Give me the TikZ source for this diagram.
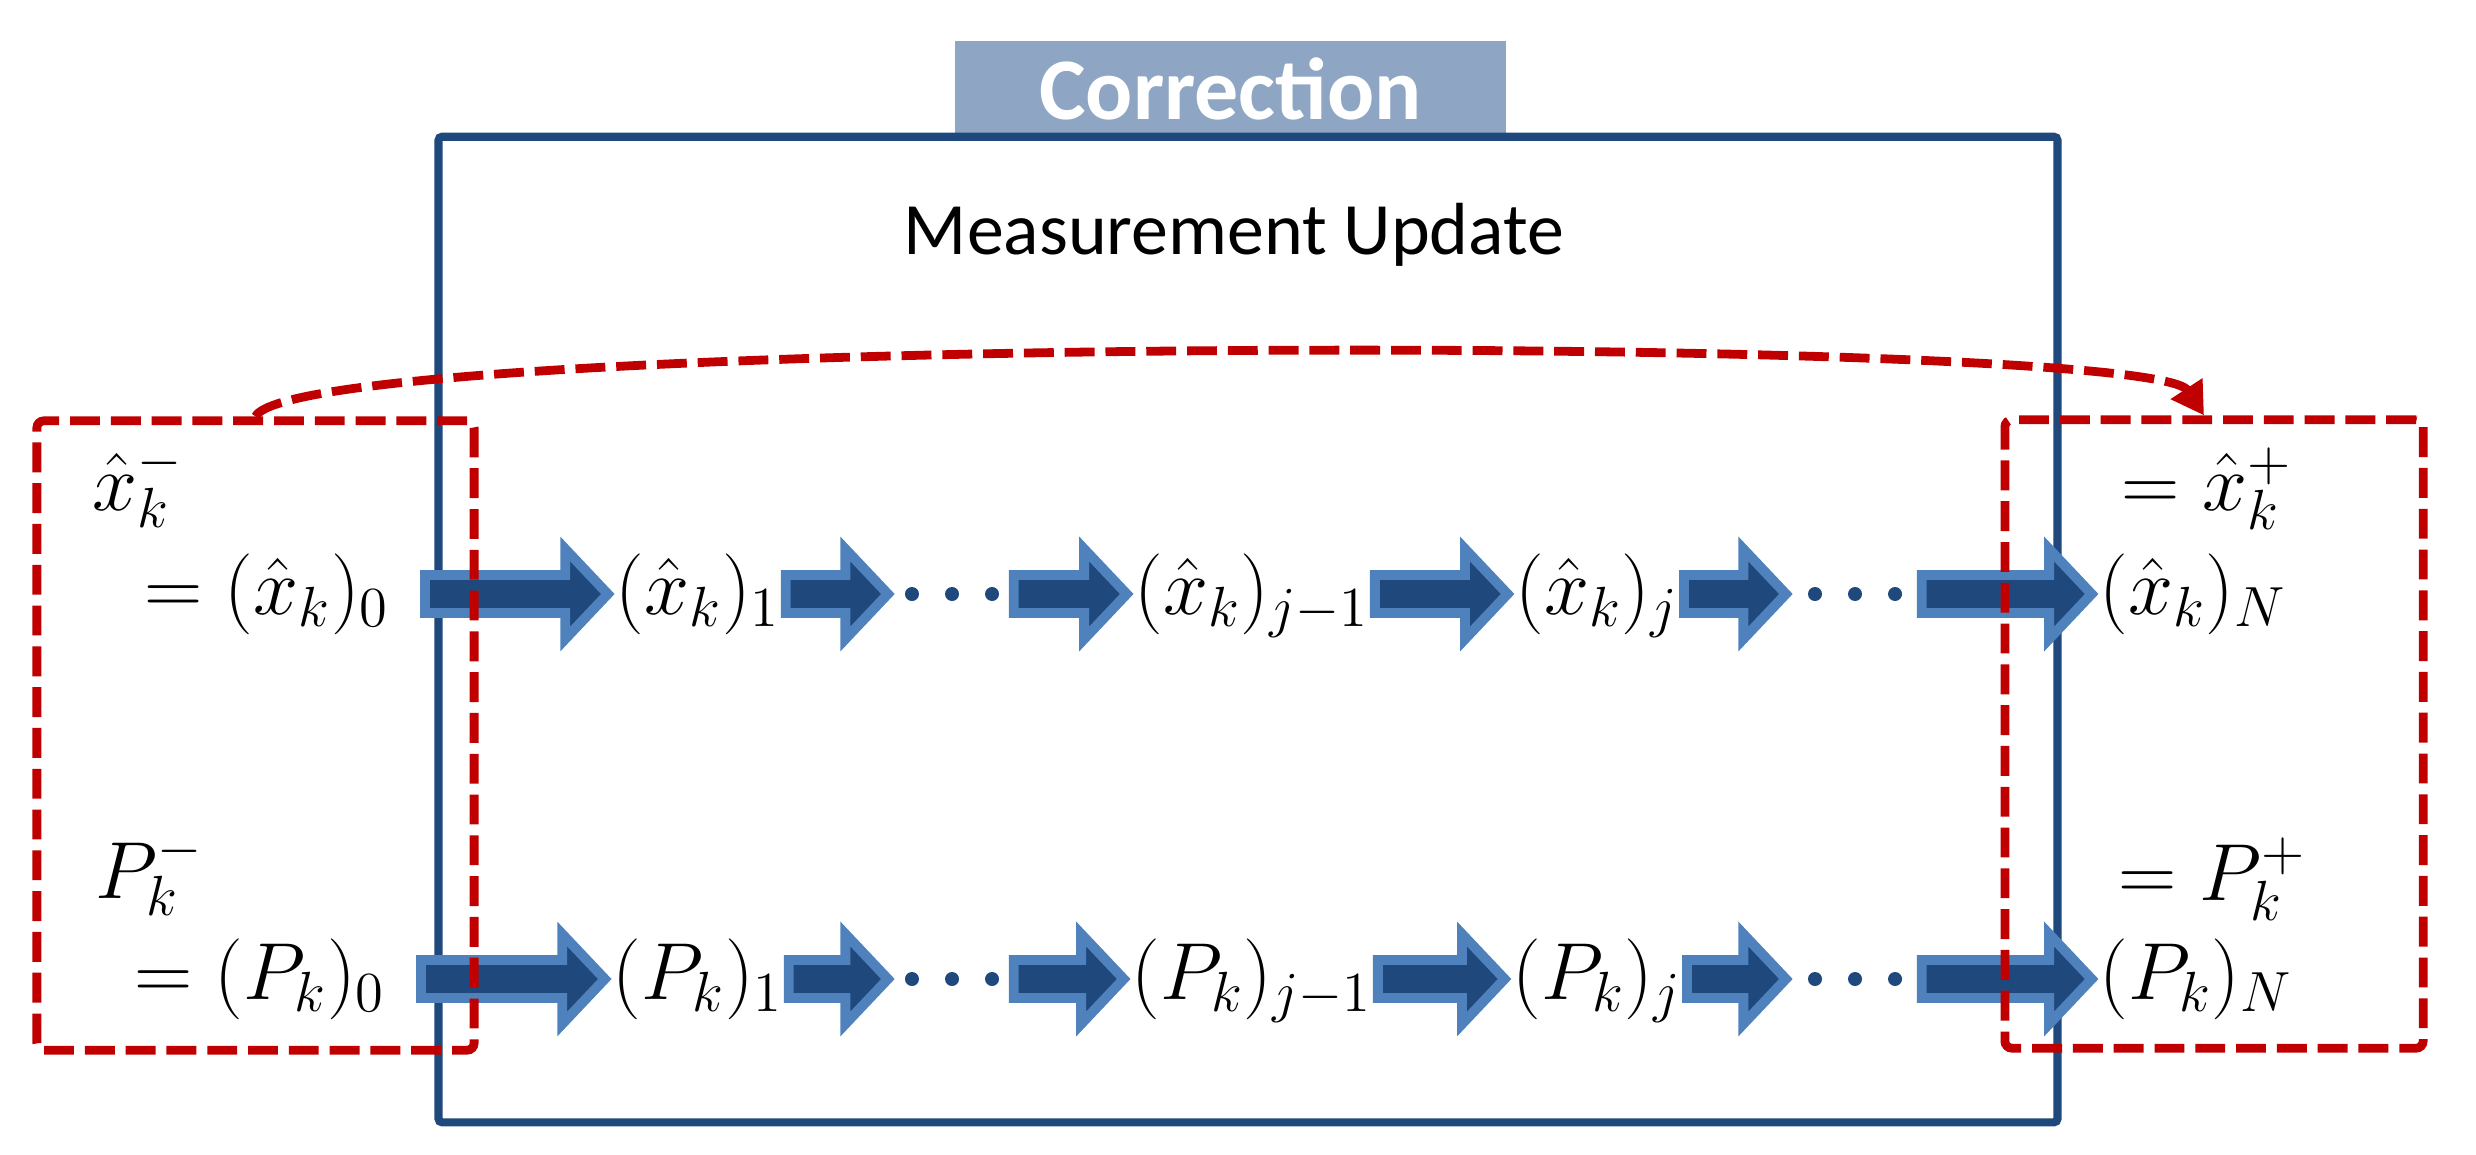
\RequirePackage{fix-cm}
\documentclass[tikz,border=0pt]{standalone}
\usepackage{fontspec}
\newfontfamily\carlito{Carlito}
\usetikzlibrary{calc,arrows.meta}
\definecolor{boxblue}{HTML}{1F497D}
\definecolor{arrowfill}{HTML}{1F497D}
\definecolor{arrowrim}{HTML}{4F81BD}
\definecolor{tabblue}{HTML}{8EA6C4}
\definecolor{dashred}{HTML}{C00000}

\begin{document}
\begin{tikzpicture}
  [x=0.01cm, y=-0.01cm,
    every node/.style={inner sep=0pt},
    eqn/.style={font=\fontsize{23}{27}\selectfont},
    est/.style={eqn, text height=17.25pt, text depth=5.75pt},
    dots/.style={minimum height=0.3cm,
      path picture={\foreach \dx in {-0.4cm,0cm,0.4cm}
        \fill[arrowfill] ([xshift=\dx]path picture bounding box.center) circle (0.07cm);}},
    flow/.style={draw=arrowrim, fill=arrowfill, line width=2.8pt, line join=miter,
      to path={let \p1=(\tikztostart), \p2=(\tikztotarget) in
        (\x1+1.4pt,\y1+5.4pt) -- (\x2-14.2pt,\y1+5.4pt) -- (\x2-14.2pt,\y1+12.8pt)
        -- (\x2-2.1pt,\y1) -- (\x2-14.2pt,\y1-12.8pt) -- (\x2-14.2pt,\y1-5.4pt)
        -- (\x1+1.4pt,\y1-5.4pt) -- cycle}},
    bound/.style={draw=dashred, line width=2.5pt, dash pattern=on 8.5pt off 3.1pt, rounded corners=2pt},
  ]
  \useasboundingbox (0,0) rectangle (2476,1155);

  % correction tab and update box
  \node[fill=tabblue, minimum width=5.51cm, minimum height=0.96cm, text=white,
    font=\carlito\bfseries\fontsize{25}{29}\selectfont] (tab) at (1230.5,89) {Correction};
  \node[draw=boxblue, line width=2.3pt, rounded corners=1pt,
    minimum width=16.18cm, minimum height=9.85cm] (update) at (1248,629.5) {};
  \node[anchor=base, font=\carlito\fontsize{21}{25}\selectfont] (title) at (1234,255) {Measurement Update};

  % state row
  \node[eqn, anchor=base west] (xm) at (92,510) {$\hat{x}_k^-$};
  \node[est, anchor=east] (x0) at (390,594) {$=(\hat{x}_k)_0$};
  \node[est] (x1) at (698,594) {$(\hat{x}_k)_1$};
  \node[dots, minimum width=1.12cm] (xd1) at (952,594) {};
  \node[est] (xj1) at (1252,594) {$(\hat{x}_k)_{j-1}$};
  \node[est] (xj) at (1597,594) {$(\hat{x}_k)_j$};
  \node[dots, minimum width=1.22cm] (xd2) at (1855,594) {};
  \node[est, anchor=west] (xN) at (2099,594) {$(\hat{x}_k)_N$};
  \node[eqn, anchor=base west] (xp) at (2121,510) {$=\hat{x}_k^+$};

  % covariance row
  \node[eqn, anchor=base west] (Pm) at (95,898) {$P_k^-$};
  \node[est, anchor=east] (P0) at (386,979) {$=(P_k)_0$};
  \node[est] (P1) at (698,979) {$(P_k)_1$};
  \node[dots, minimum width=1.12cm] (Pd1) at (952,979) {};
  \node[est] (Pj1) at (1252,979) {$(P_k)_{j-1}$};
  \node[est] (Pj) at (1597,979) {$(P_k)_j$};
  \node[dots, minimum width=1.22cm] (Pd2) at (1855,979) {};
  \node[est, anchor=west] (PN) at (2099,979) {$(P_k)_N$};
  \node[eqn, anchor=base west] (Pp) at (2118,900) {$=P_k^+$};

  \draw[flow] ([xshift=0.3cm]x0.east) to (x1.west);
  \draw[flow] (x1.east) to (xd1.west);
  \draw[flow] (xd1.east) to (xj1.west);
  \draw[flow] (xj1.east) to (xj.west);
  \draw[flow] (xj.east) to (xd2.west);
  \draw[flow] (xd2.east) to (xN.west);

  \draw[flow] ([xshift=0.3cm]P0.east) to (P1.west);
  \draw[flow] (P1.east) to (Pd1.west);
  \draw[flow] (Pd1.east) to (Pj1.west);
  \draw[flow] (Pj1.east) to (Pj.west);
  \draw[flow] (Pj.east) to (Pd2.west);
  \draw[flow] (Pd2.east) to (PN.west);

  % prior and posterior groups
  \node[bound, minimum width=4.37cm, minimum height=6.29cm] (prior) at (255.5,735.5) {};
  \node[bound, minimum width=4.18cm, minimum height=6.28cm] (post) at (2214,734) {};
  \draw[bound, -{Triangle[length=0.32cm,width=0.36cm]}]
    (prior.north) .. controls (300,333) and (2150,333) .. ([xshift=-0.1cm]post.north);
\end{tikzpicture}
\end{document}
